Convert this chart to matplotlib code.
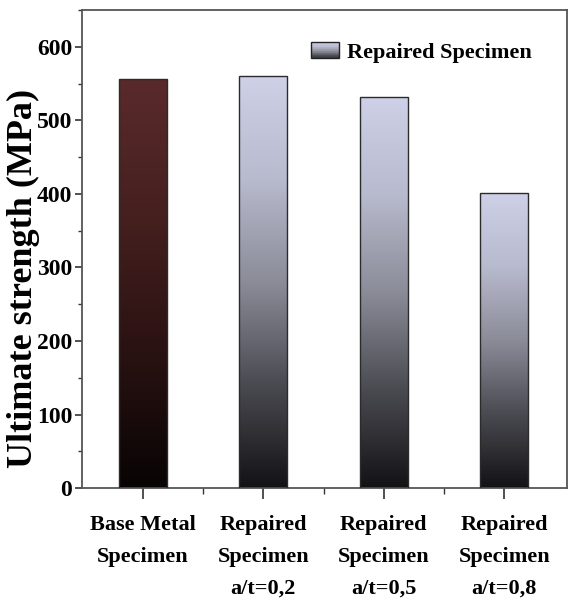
import numpy as np
import matplotlib
matplotlib.use("Agg")
import matplotlib.pyplot as plt
from matplotlib.colors import LinearSegmentedColormap
from matplotlib.patches import Rectangle
from matplotlib.legend_handler import HandlerBase
from matplotlib.ticker import MultipleLocator

categories = ["Base Metal\nSpecimen",
              "Repaired\nSpecimen\na/t=0,2",
              "Repaired\nSpecimen\na/t=0,5",
              "Repaired\nSpecimen\na/t=0,8"]
strength = [556, 560, 532, 401]
is_repaired = [False, True, True, True]

plt.rcParams["font.family"] = ["Liberation Serif", "DejaVu Serif"]
plt.rcParams["font.weight"] = "bold"

# vertical gradients, listed bottom -> top
base_cmap = LinearSegmentedColormap.from_list(
    "base", ["#080404", "#2a1212", "#45201f", "#5a2a2b"])
rep_cmap = LinearSegmentedColormap.from_list(
    "rep", [(0.0, "#131316"), (0.25, "#4a4a51"), (0.5, "#8b8c98"),
            (0.75, "#b8bace"), (1.0, "#ced1e7")])

fig = plt.figure(figsize=(5.69, 6.08), dpi=100)
ax = fig.add_axes([0.144, 0.197, 0.8525, 0.7866])

x = np.arange(len(categories))
bars = ax.bar(x, strength, width=0.4, facecolor="none",
              edgecolor="#2b2b2b", linewidth=1.0, zorder=3)

grad = np.linspace(0, 1, 256).reshape(-1, 1)
for bar, rep in zip(bars, is_repaired):
    x0, y0 = bar.get_x(), bar.get_y()
    w, h = bar.get_width(), bar.get_height()
    im = ax.imshow(grad, cmap=rep_cmap if rep else base_cmap, origin="lower",
                   extent=[x0, x0 + w, y0, y0 + h], aspect="auto",
                   interpolation="bicubic", zorder=2)
    im.set_clip_path(bar)

ax.set_xlim(-0.505, 3.52)
ax.set_ylim(0, 650)

ax.yaxis.set_major_locator(MultipleLocator(100))
ax.yaxis.set_minor_locator(MultipleLocator(50))
ax.set_xticks(x)
ax.set_xticks(x[:-1] + 0.5, minor=True)
ax.set_xticklabels(categories, fontsize=16, fontweight="bold",
                   linespacing=1.8, va="top")
for lab in ax.get_yticklabels():
    lab.set_fontsize(17)
    lab.set_fontweight("bold")
ax.tick_params(axis="y", which="major", direction="out", length=5, width=1.2,
               pad=2, labelsize=17, colors="#333333", labelcolor="black")
ax.tick_params(axis="y", which="minor", direction="out", length=3, width=1.0,
               colors="#333333")
ax.tick_params(axis="x", which="major", direction="out", length=8, width=1.2,
               pad=11, colors="#333333", labelcolor="black")
ax.tick_params(axis="x", which="minor", direction="out", length=4, width=1.0,
               colors="#333333")

for s in ax.spines.values():
    s.set_color("#555555")
    s.set_linewidth(1.3)

ax.set_ylabel("Ultimate strength (MPa)", fontsize=26, fontweight="bold")
ax.yaxis.set_label_coords(-0.086, 0.439)


class GradientHandler(HandlerBase):
    def create_artists(self, legend, orig_handle, xdescent, ydescent,
                       width, height, fontsize, trans):
        n = 24
        arts = []
        for i in range(n):
            r = Rectangle((-xdescent, -ydescent + height * i / n), width,
                          height / n + 0.2,
                          facecolor=rep_cmap(0.15 + 0.85 * i / (n - 1)),
                          edgecolor="none", transform=trans)
            arts.append(r)
        border = Rectangle((-xdescent, -ydescent), width, height,
                           facecolor="none", edgecolor="#222222",
                           linewidth=1.0, transform=trans)
        arts.append(border)
        return arts


handle = Rectangle((0, 0), 1, 1)
leg = ax.legend([handle], ["Repaired Specimen"],
                handler_map={Rectangle: GradientHandler()},
                loc="upper right", bbox_to_anchor=(0.968, 0.975),
                frameon=False, prop={"size": 16, "weight": "bold"},
                handlelength=1.25, handleheight=0.75, handletextpad=0.35)

fig.savefig("out.png", dpi=100)
